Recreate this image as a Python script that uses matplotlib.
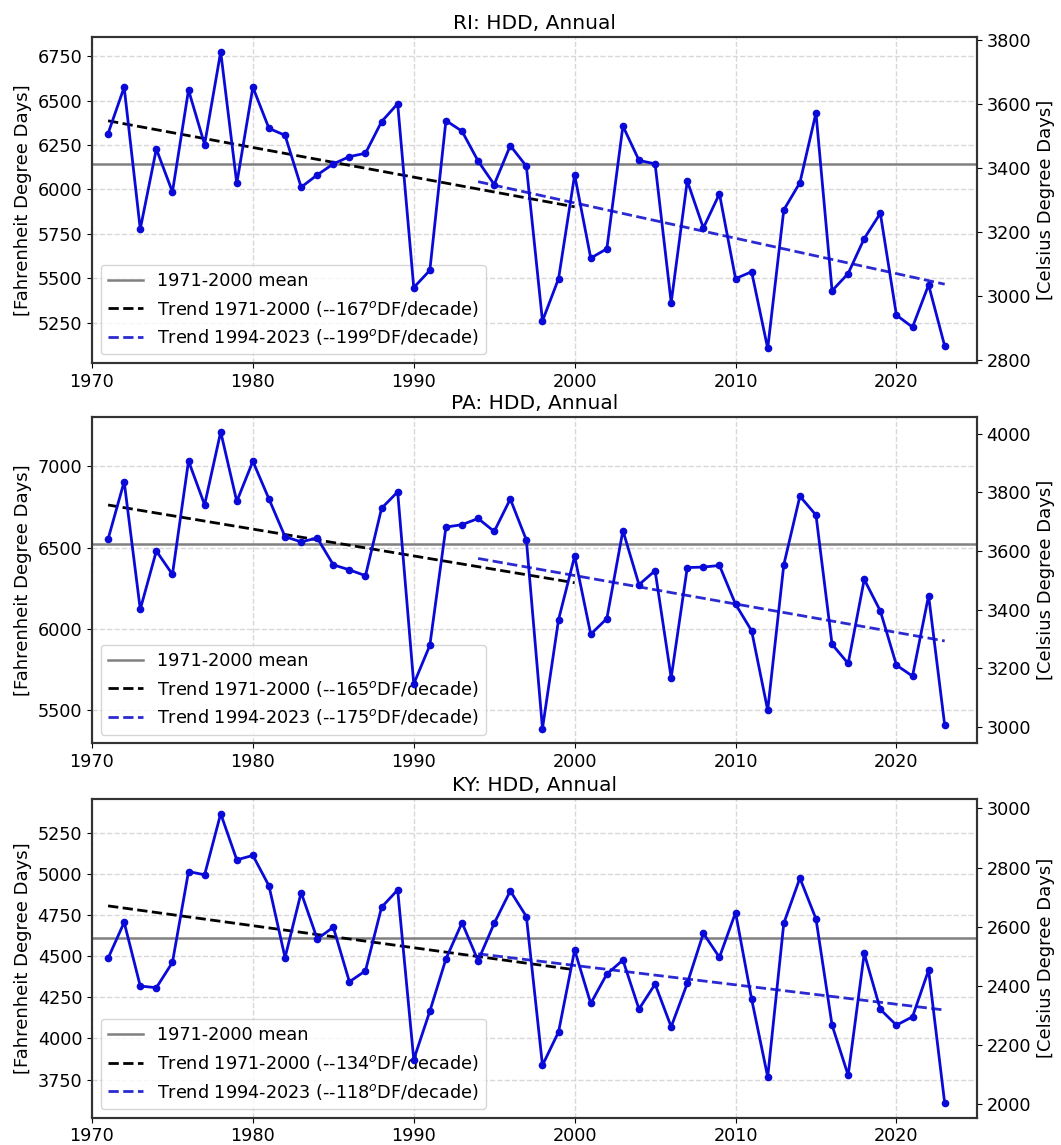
import matplotlib
matplotlib.use("Agg")
import matplotlib.pyplot as plt
from matplotlib.ticker import MultipleLocator
import numpy as np

years = np.arange(1971, 2024)

# annual heating degree days, deg F
ri_hdd = [6315, 6576, 5777, 6228, 5986, 6560, 6253, 6775, 6034, 6576,
          6344, 6305, 6013, 6082, 6144, 6185, 6204, 6382, 6483, 5448,
          5545, 6388, 6328, 6160, 6028, 6247, 6131, 5260, 5498, 6082,
          5614, 5666, 6357, 6164, 6144, 5363, 6048, 5783, 5976, 5498,
          5537, 5105, 5885, 6038, 6431, 5430, 5527, 5724, 5866, 5293,
          5225, 5463, 5119]
pa_hdd = [6553, 6907, 6121, 6480, 6336, 7034, 6764, 7213, 6785, 7032,
          6800, 6568, 6536, 6560, 6395, 6364, 6328, 6743, 6844, 5662,
          5900, 6627, 6642, 6680, 6600, 6800, 6547, 5388, 6058, 6448,
          5968, 6064, 6606, 6273, 6359, 5700, 6378, 6381, 6391, 6153,
          5989, 5500, 6395, 6817, 6701, 5906, 5788, 6305, 6111, 5778,
          5710, 6206, 5409]
ky_hdd = [4488, 4707, 4319, 4309, 4463, 5016, 4996, 5368, 5087, 5114,
          4929, 4492, 4888, 4606, 4677, 4345, 4412, 4799, 4904, 3872,
          4166, 4484, 4705, 4473, 4701, 4898, 4742, 3837, 4040, 4538,
          4213, 4392, 4477, 4179, 4331, 4071, 4335, 4640, 4494, 4766,
          4240, 3766, 4701, 4976, 4728, 4081, 3776, 4518, 4177, 4081,
          4132, 4416, 3607]

states = ["RI", "PA", "KY"]
# trend per decade (deg F) for 1971-2000 and 1994-2023
trend_old = [-167, -165, -134]
trend_new = [-199, -175, -118]
fahr_step = [250, 500, 250]

base_period = (1971, 2000)
recent_period = (1994, 2023)


def trend_line(y, period, per_decade):
    """Line with the given slope through the period's mean."""
    m = (years >= period[0]) & (years <= period[1])
    x = years[m]
    slope = per_decade / 10.0
    b = np.mean(np.asarray(y)[m]) - slope * np.mean(x)
    return x, slope * x + b


fig = plt.figure(figsize=(10.61, 11.45), dpi=100)
bottoms = [0.6827, 0.3508, 0.024]
heights = [0.285, 0.285, 0.278]
left, width = 0.0867, 0.834
fs = 12.7

for i, (st, y) in enumerate(zip(states, [ri_hdd, pa_hdd, ky_hdd])):
    ax = fig.add_axes([left, bottoms[i], width, heights[i]])
    y = np.asarray(y)
    base = (years >= base_period[0]) & (years <= base_period[1])
    mean = y[base].mean()

    ax.plot(years, y, "-o", color="#0a0ad8", lw=2, ms=4.5, zorder=10)
    ax.axhline(mean, color="gray", lw=1.8, label="1971-2000 mean")
    x1, t1 = trend_line(y, base_period, trend_old[i])
    ax.plot(x1, t1, "--", color="black", lw=2,
            label="Trend 1971-2000 (-%d$^o$DF/decade)" % trend_old[i])
    x2, t2 = trend_line(y, recent_period, trend_new[i])
    ax.plot(x2, t2, "--", color="#2a2ad0", lw=2,
            label="Trend 1994-2023 (-%d$^o$DF/decade)" % trend_new[i])

    ax.set_xlim(1970, 2025)
    ax.yaxis.set_major_locator(MultipleLocator(fahr_step[i]))
    ax.grid(True, ls="--", color="#d8d8d8", lw=1)
    ax.set_axisbelow(True)
    ax.set_title("%s: HDD, Annual" % st, fontsize=14.5)
    ax.set_ylabel("[Fahrenheit Degree Days]", fontsize=13)
    ax.tick_params(labelsize=fs)
    for sp in ax.spines.values():
        sp.set_color("#333333")
        sp.set_linewidth(1.5)
    leg = ax.legend(loc="lower left", fontsize=fs, framealpha=0.8,
                    edgecolor="#cccccc")
    leg.set_zorder(5)

    # celsius degree days on the right axis
    ax2 = ax.twinx()
    lo, hi = ax.get_ylim()
    ax2.set_ylim(lo * 5 / 9, hi * 5 / 9)
    ax2.set_ylabel("[Celsius Degree Days]", fontsize=13)
    ax2.tick_params(labelsize=fs)
    for sp in ax2.spines.values():
        sp.set_color("#333333")
        sp.set_linewidth(1.5)

fig.savefig("out.png", dpi=100)
